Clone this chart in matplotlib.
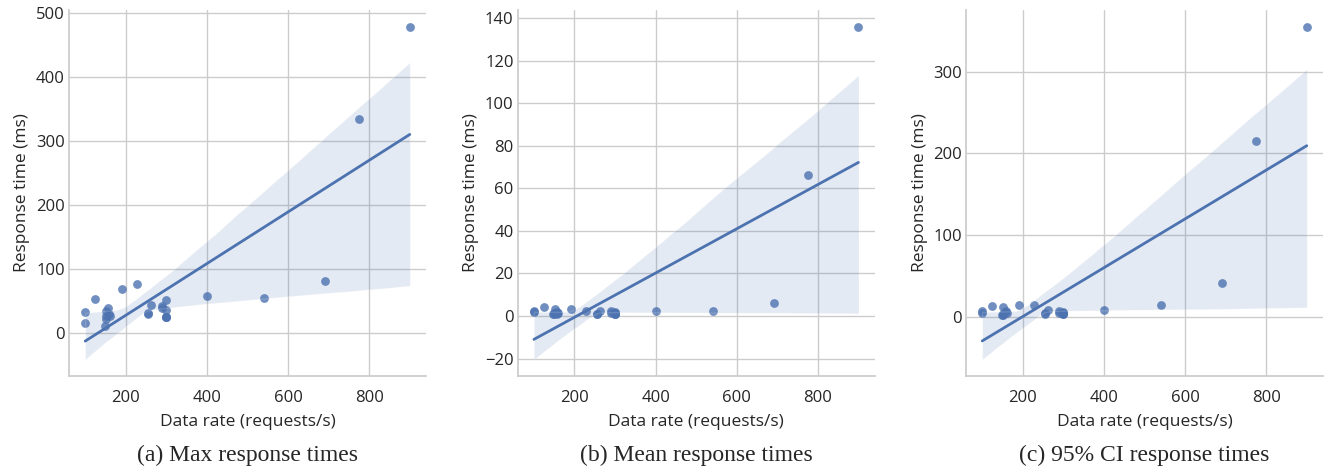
import numpy as np
import matplotlib
matplotlib.use("Agg")
import matplotlib.pyplot as plt
from matplotlib.ticker import MultipleLocator
import seaborn as sns

# data rate (requests/s), shared by all three panels
rate = [100, 100, 124, 148, 150, 150, 152, 156, 158, 160, 191, 228, 255, 255,
        263, 290, 290, 300, 300, 300, 300, 300, 400, 541, 692, 775, 900]

# response times (ms)
max_rt = [34, 16, 53, 12, 28, 22, 35, 40, 30, 28, 69, 77, 32, 30,
          44, 43, 40, 52, 36, 26, 25, 25, 58, 55, 82, 335, 479]
mean_rt = [2.2, 2.0, 4.1, 1.0, 1.2, 1.0, 3.2, 1.0, 2.0, 1.2, 3.1, 2.2, 1.0, 1.0,
           2.5, 2.2, 1.5, 2.0, 1.0, 1.5, 1.0, 1.0, 2.2, 2.2, 6.1, 66, 136]
ci95_rt = [8, 4.5, 13, 2.5, 4, 3, 12, 6.6, 8, 5, 15, 15, 5, 4,
           9, 7.4, 5, 4.5, 5, 6, 4, 4, 9, 15, 42, 215, 355]

captions = ["(a) Max response times", "(b) Mean response times",
            "(c) 95% CI response times"]
ysteps = [100, 20, 100]

sns.set_theme(style="whitegrid")
plt.rcParams['font.family'] = ['Open Sans', 'DejaVu Sans']
plt.rcParams['axes.edgecolor'] = '#cccccc'
plt.rcParams['grid.color'] = '#cccccc'

fig = plt.figure(figsize=(13.31, 4.70), dpi=100)
lefts = [69 / 1331, 517.7 / 1331, 966 / 1331]
w = 357 / 1331
series = [max_rt, mean_rt, ci95_rt]

for i, (l, ys) in enumerate(zip(lefts, series)):
    ax = fig.add_axes([l, 0.2, w, 0.779])
    sns.regplot(x=np.array(rate), y=np.array(ys), ax=ax, seed=0,
                scatter_kws=dict(s=40, alpha=0.8, linewidths=0),
                line_kws=dict(lw=2), color='#4C72B0')
    sns.despine(ax=ax)
    ax.set_xticks([200, 400, 600, 800])
    ax.yaxis.set_major_locator(MultipleLocator(ysteps[i]))
    ax.set_xlabel('Data rate (requests/s)', fontsize=12.5, color='#262626',
                  labelpad=6)
    ax.set_ylabel('Response time (ms)', fontsize=12.5, color='#262626')
    ax.tick_params(labelsize=12, colors='#262626', length=0, pad=3)
    ax.tick_params(axis='x', pad=10)
    fig.text(l + w / 2, 0.02, captions[i], ha='center', va='baseline',
             fontsize=17, family='Liberation Serif')

fig.savefig('out.png', dpi=100)
